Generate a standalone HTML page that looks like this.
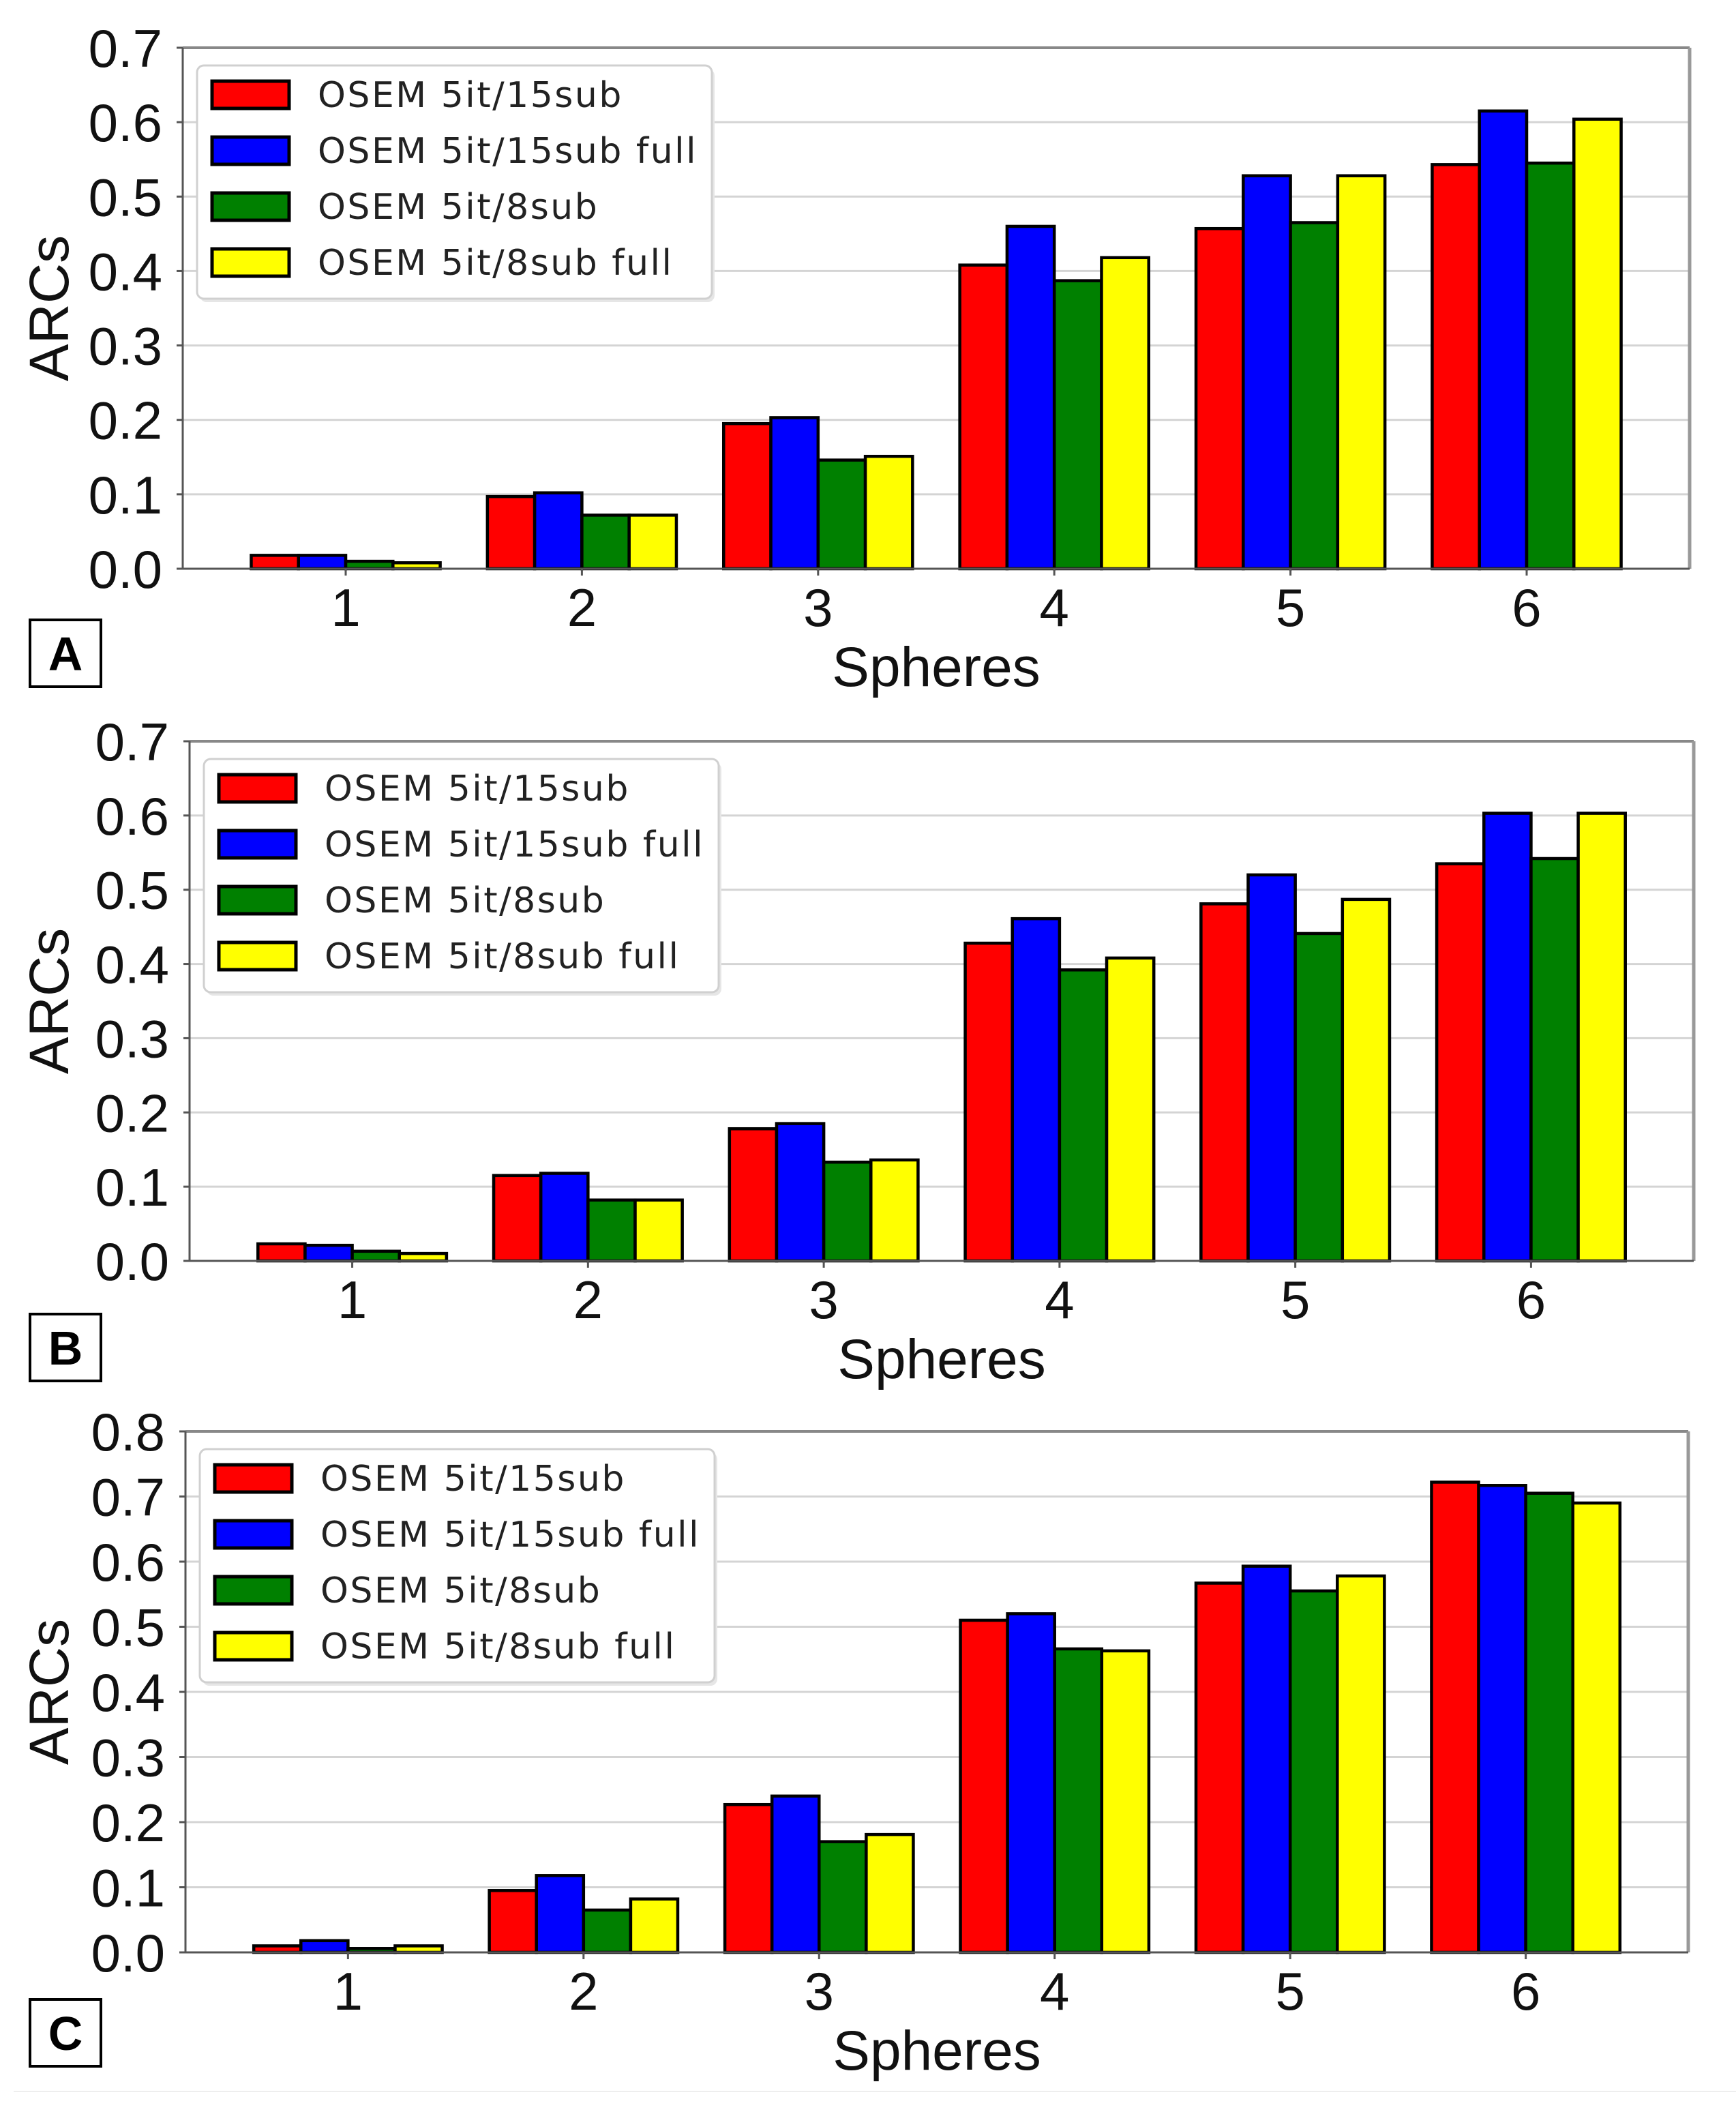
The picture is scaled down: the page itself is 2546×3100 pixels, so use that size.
<!DOCTYPE html>
<html><head><meta charset="utf-8">
<style>
html,body{margin:0;padding:0;background:#fff;}
svg{display:block;}
</style></head>
<body>
<svg id="fig" xmlns="http://www.w3.org/2000/svg" width="2546" height="3100" viewBox="0 0 2546 3100">
<rect x="0" y="0" width="2546" height="3100" fill="#fff"/>
</svg>
<script>
const spheres = ["1","2","3","4","5","6"];
const seriesNames = ["OSEM 5it/15sub","OSEM 5it/15sub full","OSEM 5it/8sub","OSEM 5it/8sub full"];
const seriesColors = ["#ff0000","#0000ff","#008000","#ffff00"];
const panelALabels = ["0.0","0.1","0.2","0.3","0.4","0.5","0.6","0.7"];
const panelCLabels = ["0.0","0.1","0.2","0.3","0.4","0.5","0.6","0.7","0.8"];
// Panel A values [series][sphere]
const aRed    = [0.018,0.097,0.195,0.408,0.457,0.543];
const aBlue   = [0.018,0.102,0.203,0.460,0.528,0.615];
const aGreen  = [0.010,0.072,0.146,0.387,0.465,0.545];
const aYellow = [0.008,0.072,0.151,0.418,0.528,0.604];
// Panel B
const bRed    = [0.023,0.115,0.178,0.428,0.481,0.535];
const bBlue   = [0.021,0.118,0.185,0.461,0.520,0.603];
const bGreen  = [0.013,0.082,0.133,0.392,0.441,0.542];
const bYellow = [0.010,0.082,0.136,0.408,0.487,0.603];
// Panel C
const cRed    = [0.010,0.095,0.227,0.510,0.567,0.722];
const cBlue   = [0.018,0.118,0.240,0.520,0.593,0.717];
const cGreen  = [0.006,0.065,0.170,0.466,0.555,0.705];
const cYellow = [0.010,0.082,0.181,0.463,0.578,0.690];

const NS = "http://www.w3.org/2000/svg";
const svg = document.getElementById('fig');
function mk(tag, attrs, parent){
  const e = document.createElementNS(NS, tag);
  for (const k in attrs) e.setAttribute(k, attrs[k]);
  (parent||svg).appendChild(e);
  return e;
}

function panel(cfg){
  const g = mk('g', {});
  
  
  const L=cfg.left, R=cfg.right, T=cfg.top, B=cfg.bottom, ymax=cfg.ymax;
  const xmin=0.31, xmax=6.69;
  const sx = v => L + (v - xmin) / (xmax - xmin) * (R - L);
  const sy = v => B - v / ymax * (B - T);
  cfg.labels.forEach((lab, i) => {
    const v = parseFloat(lab);
    const y = sy(v);
    if (i > 0) {
      const gl = mk('line', {x1:L, x2:R, y1:y, y2:y, stroke:'#d4d4d4', 'stroke-width':3}, g);
      
      
    }
    mk('line', {x1:L-9, x2:L, y1:y, y2:y, stroke:'#555', 'stroke-width':3}, g);
    const t = mk('text', {x:L-30, y:y+28, 'text-anchor':'end', 'font-family':'Liberation Sans, Arial, sans-serif', 'font-size':78, fill:'#111'}, g);
    t.textContent = lab;
    
    
  });
  const series = cfg.series;
  const w = 0.2;
  series.forEach((vals, si) => {
    vals.forEach((v, ci) => {
      const c = ci + 1;
      const x0 = sx(c - 0.4 + si * w), x1 = sx(c - 0.4 + (si + 1) * w);
      const y0 = sy(v);
      const r = mk('rect', {x:x0, y:y0, width:x1-x0, height:B-y0, fill:seriesColors[si], stroke:'#000', 'stroke-width':4.5}, g);
      
      
    });
  });
  mk('line', {x1:L, x2:R, y1:T, y2:T, stroke:'#888', 'stroke-width':4}, g);
  mk('line', {x1:R, x2:R, y1:T, y2:B, stroke:'#999', 'stroke-width':5}, g);
  mk('line', {x1:L, x2:L, y1:T, y2:B, stroke:'#555', 'stroke-width':3}, g);
  mk('line', {x1:L, x2:R, y1:B, y2:B, stroke:'#555', 'stroke-width':3}, g);
  spheres.forEach((s, i) => {
    const x = sx(i + 1);
    mk('line', {x1:x, x2:x, y1:B, y2:B+10, stroke:'#555', 'stroke-width':3}, g);
    const t = mk('text', {x:x, y:B+84, 'text-anchor':'middle', 'font-family':'Liberation Sans, Arial, sans-serif', 'font-size':78, fill:'#111'}, g);
    t.textContent = s;
    
    
  });
  const xt = mk('text', {x:(L+R)/2, y:B+172, 'text-anchor':'middle', 'font-family':'Liberation Sans, Arial, sans-serif', 'font-size':82, fill:'#111'}, g);
  xt.textContent = 'Spheres';
  
  
  const cy = (T + B) / 2;
  const yt = mk('text', {x:0, y:0, 'text-anchor':'middle', 'font-family':'Liberation Sans, Arial, sans-serif', 'font-size':82, fill:'#111', transform:'translate(100,'+cy+') rotate(-90)'}, g);
  yt.textContent = 'ARCs';
  
  
  const lg = mk('g', {}, g);
  
  
  const lx = L + 21, ly = T + 26;
  mk('rect', {x:lx+4, y:ly+5, width:755, height:342, rx:10, fill:'#e6e6e6'}, lg);
  mk('rect', {x:lx, y:ly, width:755, height:342, rx:10, fill:'#fff', stroke:'#d0d0d0', 'stroke-width':3}, lg);
  seriesNames.forEach((n, i) => {
    const yc = ly + 43 + i * 82;
    const e = mk('g', {}, lg);
    
    
    mk('rect', {x:lx+22, y:yc-20, width:113, height:40, fill:seriesColors[i], stroke:'#000', 'stroke-width':5}, e);
    const t = mk('text', {x:lx+177, y:yc+18, 'font-family':'DejaVu Sans, sans-serif', 'font-size':52, 'letter-spacing':2.5, fill:'#222'}, e);
    t.textContent = n;
  });
  const pb = mk('g', {}, g);
  
  
  mk('rect', {x:44, y:cfg.labelY, width:104, height:98, fill:'#fff', stroke:'#000', 'stroke-width':4}, pb);
  const pt = mk('text', {x:96, y:cfg.labelY+74, 'text-anchor':'middle', 'font-family':'Liberation Sans, Arial, sans-serif', 'font-size':70, 'font-weight':'bold', fill:'#000'}, pb);
  pt.textContent = cfg.id;
}

panel({id:'A', left:268, right:2478, top:70, bottom:834, ymax:0.7, labels:panelALabels,
  series:[aRed,aBlue,aGreen,aYellow], labelY:909});
panel({id:'B', left:278, right:2484, top:1087, bottom:1849, ymax:0.7, labels:panelALabels,
  series:[bRed,bBlue,bGreen,bYellow], labelY:1927});
panel({id:'C', left:272, right:2476, top:2099, bottom:2863, ymax:0.8, labels:panelCLabels,
  series:[cRed,cBlue,cGreen,cYellow], labelY:2932});
const bl = mk('line', {x1:20, x2:2546, y1:3067, y2:3067, stroke:'#eee', 'stroke-width':2});


</script>
</body></html>
